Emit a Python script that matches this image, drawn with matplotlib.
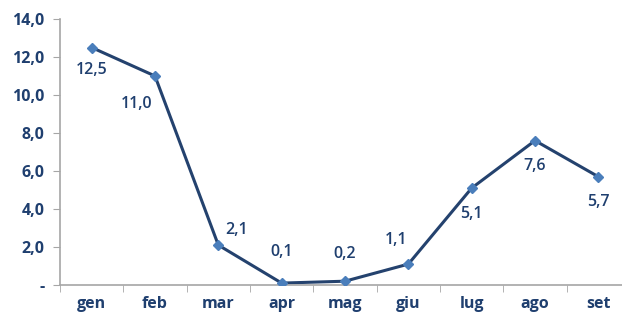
import matplotlib
matplotlib.use("Agg")
import matplotlib.pyplot as plt
from matplotlib.ticker import FixedLocator

months = ["gen", "feb", "mar", "apr", "mag", "giu", "lug", "ago", "set"]
values = [12.5, 11.0, 2.1, 0.1, 0.2, 1.1, 5.1, 7.6, 5.7]
yticks = [0, 2, 4, 6, 8, 10, 12, 14]
ytick_labels = ["-", "2,0", "4,0", "6,0", "8,0", "10,0", "12,0", "14,0"]

# label offsets in pixels (dx, dy)
offsets = [(0, -22), (-18, -28), (18, 15), (0, 31), (0, 27), (-12, 24), (0, -26), (0, -25), (0, -25)]

txt = "#1f3f6f"
line_c = "#24426e"
mark_c = "#4a7ebb"
axis_c = "#a6a6a6"
font = "Open Sans"

fig = plt.figure(figsize=(6.22, 3.16), dpi=100)
ax = fig.add_axes([60/622, 31/316, 570/622, 266/316])

x = list(range(len(months)))
ax.plot(x, values, color=line_c, lw=2.2, zorder=2)
ax.plot(x, values, ls="none", marker="D", ms=5.5, color=mark_c, zorder=3)

for xi, v, (dx, dy) in zip(x, values, offsets):
    ax.annotate(f"{v:.1f}".replace(".", ","), (xi, v), xytext=(dx, dy),
                textcoords="offset pixels", ha="center", va="center",
                fontsize=11.5, fontweight="semibold", color=txt, family=font)

ax.set_xlim(-0.5, len(months) - 0.5)
ax.set_ylim(0, 14)
ax.set_yticks(yticks)
ax.set_yticklabels(ytick_labels)
ax.set_xticks(x)
ax.set_xticklabels(months)
ax.xaxis.set_minor_locator(FixedLocator([i - 0.5 for i in range(len(months) + 1)]))
ax.tick_params(axis="x", which="major", length=0, pad=8)
ax.tick_params(axis="x", which="minor", length=5, color=axis_c, direction="out")
ax.tick_params(axis="y", length=5, color=axis_c, direction="out", pad=6)
for lab in ax.get_xticklabels() + ax.get_yticklabels():
    lab.set_family(font)
    lab.set_fontweight("bold")
    lab.set_fontsize(11.5)
    lab.set_color(txt)

for s in ["top", "right"]:
    ax.spines[s].set_visible(False)
for s in ["left", "bottom"]:
    ax.spines[s].set_color(axis_c)
    ax.spines[s].set_linewidth(1.2)

fig.savefig("out.png", dpi=100)
